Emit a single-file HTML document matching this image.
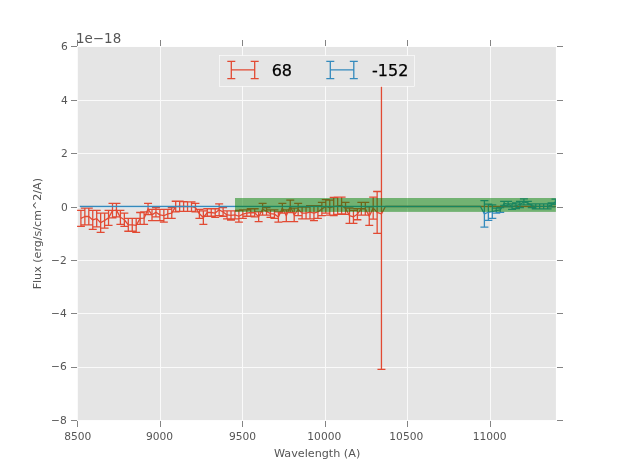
<!DOCTYPE html>
<html><head><meta charset="utf-8"><title>Flux plot</title>
<style>html,body{margin:0;padding:0;background:#fff}svg{display:block}</style></head>
<body>
<svg width="617" height="467" viewBox="0 0 617 467" font-family="'DejaVu Sans', 'Liberation Sans', sans-serif">
<rect width="617" height="467" fill="#ffffff"/>
<rect x="77.1" y="46.8" width="478.8" height="373.7" fill="#E5E5E5"/>
<defs><clipPath id="c"><rect x="77.1" y="46.8" width="478.8" height="373.7"/></clipPath></defs>
<path d="M77.5 46.8V420.5M160.5 46.8V420.5M242.5 46.8V420.5M325.5 46.8V420.5M407.5 46.8V420.5M490.5 46.8V420.5M77.1 46.5H555.9M77.1 100.5H555.9M77.1 153.5H555.9M77.1 207.5H555.9M77.1 260.5H555.9M77.1 313.5H555.9M77.1 367.5H555.9M77.1 420.5H555.9" stroke="#ffffff" stroke-opacity="0.8" stroke-width="1" fill="none" shape-rendering="crispEdges"/>
<g clip-path="url(#c)" stroke="#E24A33" fill="none" stroke-width="1.3"><path d="M80.90 218.39L84.85 216.52L88.80 216.52L92.75 219.89L96.70 218.66L100.65 222.68L104.60 220.54L108.55 217.86L112.50 210.63L116.45 210.09L120.40 217.32L124.35 219.73L128.30 224.82L132.25 224.82L136.20 225.36L140.15 218.39L144.10 218.13L148.05 209.02L152.00 214.91L155.95 212.23L159.90 214.91L163.85 215.72L167.80 213.84L171.75 213.04L175.70 206.61L179.65 206.34L183.60 206.50L187.55 206.61L191.50 206.61L195.45 207.68L199.40 213.84L203.35 217.59L207.30 212.50L211.25 212.50L215.20 213.04L219.15 209.82L223.10 211.97L227.05 214.91L231.00 215.45L234.95 214.91L238.90 216.25L242.85 214.11L246.80 213.04L250.75 212.50L254.70 212.77L258.65 216.79L262.60 209.29L266.55 211.43L270.50 213.57L274.45 214.11L278.40 217.05L282.35 208.21L286.30 215.72L290.25 206.34L294.20 214.91L298.15 209.55L302.10 213.04L306.05 213.04L310.00 212.23L313.95 213.04L317.90 211.97L321.85 209.02L325.80 206.34L329.75 207.68L333.70 206.61L337.65 205.80L341.60 205.50L345.55 208.45L349.50 215.64L353.45 216.82L357.40 214.17L361.35 208.74L365.30 208.74L369.25 216.11L373.20 208.16L377.15 212.40L381.45 213.90L385.40 206.50L557.90 206.50" stroke-linejoin="round"/><path d="M80.90 210.36V226.43M76.90 210.36h8M76.90 226.43h8M84.85 208.21V224.82M80.85 208.21h8M80.85 224.82h8M88.80 208.21V224.82M84.80 208.21h8M84.80 224.82h8M92.75 210.36V229.43M88.75 210.36h8M88.75 229.43h8M96.70 210.36V226.97M92.70 210.36h8M92.70 226.97h8M100.65 213.04V232.32M96.65 213.04h8M96.65 232.32h8M104.60 213.04V228.04M100.60 213.04h8M100.60 228.04h8M108.55 210.36V225.36M104.55 210.36h8M104.55 225.36h8M112.50 203.39V217.86M108.50 203.39h8M108.50 217.86h8M116.45 203.39V216.79M112.45 203.39h8M112.45 216.79h8M120.40 210.36V224.29M116.40 210.36h8M116.40 224.29h8M124.35 213.04V226.43M120.35 213.04h8M120.35 226.43h8M128.30 218.39V231.25M124.30 218.39h8M124.30 231.25h8M132.25 218.39V231.25M128.25 218.39h8M128.25 231.25h8M136.20 218.39V232.32M132.20 218.39h8M132.20 232.32h8M140.15 212.50V224.29M136.15 212.50h8M136.15 224.29h8M144.10 211.97V224.29M140.10 211.97h8M140.10 224.29h8M148.05 203.39V214.64M144.05 203.39h8M144.05 214.64h8M152.00 209.29V220.54M148.00 209.29h8M148.00 220.54h8M155.95 207.68V216.79M151.95 207.68h8M151.95 216.79h8M159.90 209.29V220.54M155.90 209.29h8M155.90 220.54h8M163.85 209.29V222.14M159.85 209.29h8M159.85 222.14h8M167.80 209.29V218.39M163.80 209.29h8M163.80 218.39h8M171.75 207.68V218.39M167.75 207.68h8M167.75 218.39h8M175.70 201.25V211.97M171.70 201.25h8M171.70 211.97h8M179.65 201.25V211.43M175.65 201.25h8M175.65 211.43h8M183.60 201.57V211.43M179.60 201.57h8M179.60 211.43h8M187.55 201.79V211.43M183.55 201.79h8M183.55 211.43h8M191.50 201.79V211.43M187.50 201.79h8M187.50 211.43h8M195.45 203.39V211.97M191.45 203.39h8M191.45 211.97h8M199.40 209.29V218.39M195.40 209.29h8M195.40 218.39h8M203.35 210.89V224.29M199.35 210.89h8M199.35 224.29h8M207.30 208.75V216.25M203.30 208.75h8M203.30 216.25h8M211.25 208.75V216.25M207.25 208.75h8M207.25 216.25h8M215.20 208.75V217.32M211.20 208.75h8M211.20 217.32h8M219.15 203.93V215.72M215.15 203.93h8M215.15 215.72h8M223.10 207.68V216.25M219.10 207.68h8M219.10 216.25h8M227.05 210.89V218.93M223.05 210.89h8M223.05 218.93h8M231.00 210.89V220.00M227.00 210.89h8M227.00 220.00h8M234.95 210.89V218.93M230.95 210.89h8M230.95 218.93h8M238.90 210.36V222.14M234.90 210.36h8M234.90 222.14h8M242.85 209.82V218.39M238.85 209.82h8M238.85 218.39h8M246.80 209.82V216.25M242.80 209.82h8M242.80 216.25h8M250.75 208.75V216.25M246.75 208.75h8M246.75 216.25h8M254.70 208.75V216.79M250.70 208.75h8M250.70 216.79h8M258.65 211.97V221.61M254.65 211.97h8M254.65 221.61h8M262.60 203.39V215.18M258.60 203.39h8M258.60 215.18h8M266.55 207.68V215.18M262.55 207.68h8M262.55 215.18h8M270.50 209.82V217.32M266.50 209.82h8M266.50 217.32h8M274.45 209.82V218.39M270.45 209.82h8M270.45 218.39h8M278.40 211.97V222.14M274.40 211.97h8M274.40 222.14h8M282.35 203.39V213.04M278.35 203.39h8M278.35 213.04h8M286.30 209.82V221.61M282.30 209.82h8M282.30 221.61h8M290.25 200.18V212.50M286.25 200.18h8M286.25 212.50h8M294.20 208.21V221.61M290.20 208.21h8M290.20 221.61h8M298.15 203.39V215.72M294.15 203.39h8M294.15 215.72h8M302.10 207.14V218.93M298.10 207.14h8M298.10 218.93h8M306.05 207.14V218.93M302.05 207.14h8M302.05 218.93h8M310.00 205.54V218.93M306.00 205.54h8M306.00 218.93h8M313.95 205.54V220.54M309.95 205.54h8M309.95 220.54h8M317.90 205.54V218.39M313.90 205.54h8M313.90 218.39h8M321.85 202.32V215.72M317.85 202.32h8M317.85 215.72h8M325.80 199.64V213.04M321.80 199.64h8M321.80 213.04h8M329.75 200.18V215.18M325.75 200.18h8M325.75 215.18h8M333.70 197.50V215.72M329.70 197.50h8M329.70 215.72h8M337.65 197.14V214.46M333.65 197.14h8M333.65 214.46h8M341.60 197.14V213.87M337.60 197.14h8M337.60 213.87h8M345.55 202.44V214.46M341.55 202.44h8M341.55 214.46h8M349.50 207.98V223.30M345.50 207.98h8M345.50 223.30h8M353.45 210.34V223.30M349.45 210.34h8M349.45 223.30h8M357.40 208.57V219.76M353.40 208.57h8M353.40 219.76h8M361.35 202.44V215.05M357.35 202.44h8M357.35 215.05h8M365.30 202.44V215.05M361.30 202.44h8M361.30 215.05h8M369.25 206.80V225.42M365.25 206.80h8M365.25 225.42h8M373.20 197.14V219.17M369.20 197.14h8M369.20 219.17h8M377.15 191.48V233.31M373.15 191.48h8M373.15 233.31h8M381.45 58.40V369.40M377.45 58.40h8M377.45 369.40h8"/></g>
<g clip-path="url(#c)" stroke="#348ABD" fill="none" stroke-width="1.3"><path d="M79.80 206.50L480.45 206.50L484.40 213.90L488.35 212.25L492.30 211.60L496.25 210.70L500.20 209.98L504.15 203.39L508.10 204.17L512.05 206.60L516.00 205.67L519.95 204.48L523.90 201.88L527.85 203.18L531.80 205.67L535.75 206.34L539.70 206.34L543.65 206.34L547.60 206.34L551.55 204.89L555.50 201.78" stroke-linejoin="round"/><path d="M484.40 200.60V227.20M480.40 200.60h8M480.40 227.20h8M488.35 204.20V220.30M484.35 204.20h8M484.35 220.30h8M492.30 204.80V218.40M488.30 204.80h8M488.30 218.40h8M496.25 208.20V213.20M492.25 208.20h8M492.25 213.20h8M500.20 207.49V212.46M496.20 207.49h8M496.20 212.46h8M504.15 201.37V205.41M500.15 201.37h8M500.15 205.41h8M508.10 201.37V206.97M504.10 201.37h8M504.10 206.97h8M512.05 203.85V209.35M508.05 203.85h8M508.05 209.35h8M516.00 202.82V208.52M512.00 202.82h8M512.00 208.52h8M519.95 201.47V207.49M515.95 201.47h8M515.95 207.49h8M523.90 198.88V204.89M519.90 198.88h8M519.90 204.89h8M527.85 201.47V204.89M523.85 201.47h8M523.85 204.89h8M531.80 203.85V207.49M527.80 203.85h8M527.80 207.49h8M535.75 203.85V208.83M531.75 203.85h8M531.75 208.83h8M539.70 203.85V208.83M535.70 203.85h8M535.70 208.83h8M543.65 203.85V208.83M539.65 203.85h8M539.65 208.83h8M547.60 203.85V208.83M543.60 203.85h8M543.60 208.83h8M551.55 202.82V206.97M547.55 202.82h8M547.55 206.97h8M555.50 199.19V204.37M551.50 199.19h8M551.50 204.37h8"/></g>
<rect x="235" y="198" width="320.9" height="13.9" fill="#008000" fill-opacity="0.5"/>
<path d="M77.5 421v5.6M77.5 46v-5.6M160.5 421v5.6M160.5 46v-5.6M242.5 421v5.6M242.5 46v-5.6M325.5 421v5.6M325.5 46v-5.6M407.5 421v5.6M407.5 46v-5.6M490.5 421v5.6M490.5 46v-5.6M77 46.5h-6M557 46.5h6M77 100.5h-6M557 100.5h6M77 153.5h-6M557 153.5h6M77 207.5h-6M557 207.5h6M77 260.5h-6M557 260.5h6M77 313.5h-6M557 313.5h6M77 367.5h-6M557 367.5h6M77 420.5h-6M557 420.5h6" stroke="#555555" stroke-width="1" stroke-opacity="0.72" fill="none" shape-rendering="crispEdges"/>
<g fill="#555555" font-size="10.67">
<text x="77.8" y="440" text-anchor="middle">8500</text>
<text x="159.6" y="440" text-anchor="middle">9000</text>
<text x="242.6" y="440" text-anchor="middle">9500</text>
<text x="324.3" y="440" text-anchor="middle">10000</text>
<text x="406.3" y="440" text-anchor="middle">10500</text>
<text x="489.6" y="440" text-anchor="middle">11000</text>
<text x="67.9" y="49.8" text-anchor="end">6</text>
<text x="67.9" y="103.8" text-anchor="end">4</text>
<text x="67.9" y="156.8" text-anchor="end">2</text>
<text x="67.9" y="210.8" text-anchor="end">0</text>
<text x="66.7" y="263.8" text-anchor="end">−2</text>
<text x="66.7" y="316.8" text-anchor="end">−4</text>
<text x="66.7" y="369.8" text-anchor="end">−6</text>
<text x="66.7" y="423.8" text-anchor="end">−8</text>
</g>
<text x="76.0" y="43.4" font-size="13.45" fill="#555555">1e−18</text>
<text x="317.1" y="457.1" font-size="11.2" fill="#555555" text-anchor="middle">Wavelength (A)</text>
<text transform="translate(40.85 233.7) rotate(-90)" font-size="11.1" fill="#555555" text-anchor="middle">Flux (erg/s/cm^2/A)</text>
<rect x="219.4" y="55.5" width="195.1" height="30.9" fill="#E5E5E5" stroke="#ffffff" stroke-width="0.6"/>
<path d="M231.3 69.9H254.7M231.3 61.4V78.7M227.3 61.4h8M227.3 78.7h8M254.7 61.4V78.7M250.7 61.4h8M250.7 78.7h8" stroke="#E24A33" stroke-width="1.3" fill="none"/>
<path d="M330.3 69.9H353.8M330.3 61.4V78.7M326.3 61.4h8M326.3 78.7h8M353.8 61.4V78.7M349.8 61.4h8M349.8 78.7h8" stroke="#348ABD" stroke-width="1.3" fill="none"/>
<text x="271.7" y="75.6" font-size="16" fill="#000" stroke="#000" stroke-width="0.25">68</text>
<text x="372.0" y="75.6" font-size="16" fill="#000" stroke="#000" stroke-width="0.25">-152</text>
</svg>
</body></html>
